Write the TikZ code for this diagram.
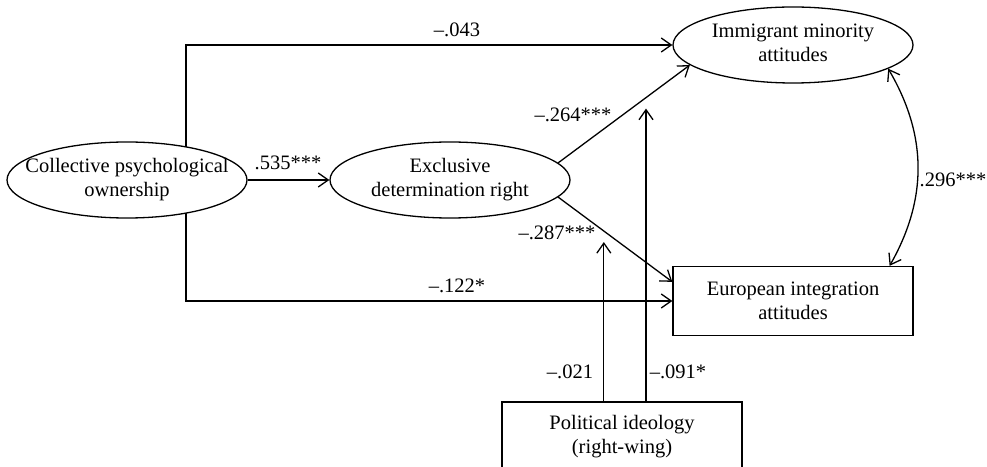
\documentclass[tikz,border=0pt]{standalone}
\usepackage{fontspec}
\setmainfont{Liberation Serif}
\usetikzlibrary{shapes.geometric,arrows.meta,calc,backgrounds}
\newcommand\ovtext[1]{\makebox[0pt]{\begin{tabular}{@{}c@{}}#1\end{tabular}}}
\begin{document}
\begin{tikzpicture}[x=1pt,y=1pt,
  font=\fontsize{20.5}{23.5}\selectfont,
  every node/.style={inner sep=0pt},
  oval/.style={ellipse,draw,line width=1.3pt,fill=white,minimum width=240pt,minimum height=76pt,inner sep=0pt},
  rbox/.style={rectangle,draw,line width=1.3pt,fill=white,minimum width=240pt,minimum height=69pt,align=center},
  arr/.style={line width=1.3pt,-{Straight Barb[length=10pt,width=14pt,line width=1.3pt]}},
  darr/.style={line width=1.3pt,{Straight Barb[length=10pt,width=14pt,line width=1.3pt]}-{Straight Barb[length=10pt,width=14pt,line width=1.3pt]}},
  lbl/.style={inner sep=0pt}]
\useasboundingbox (0,0) rectangle (987,466);
\clip (0,0) rectangle (987,466);
\node[oval] (cpo) at (127,286) {\ovtext{Collective psychological\\ownership}};
\node[oval] (edr) at (450,286) {\ovtext{Exclusive\\determination right}};
\node[oval] (ima) at (793,421) {\ovtext{Immigrant minority\\attitudes}};
\node[rbox] (eia) at (793,165) {European integration\\attitudes};
\node[rbox] (pi) at (622,29.5) {Political ideology\\(right-wing)};
\coordinate (split) at (186,286);
\begin{scope}[on background layer]
\draw[arr] (split) |- (ima.west);
\draw[arr] (split) |- (eia.west);
\draw[arr] (cpo.east) -- (edr.west);
\draw[arr] (edr.9) -- coordinate[pos=0.667] (m2) (ima.191);
\draw[arr] (edr.-9) -- coordinate[pos=0.4] (m1) (eia.171);
\draw[arr] (pi.north -| m1) -- ($(m1)+(0,-11)$);
\draw[arr] (pi.north -| m2) -- ($(m2)+(0,-11)$);
\draw[darr] (ima.-14) to[bend left=30] (eia.20);
\end{scope}
\node[lbl] (l1) at (457,436) {\textendash.043};
\node[lbl] (l2) at (288,303) {.535***};
\node[lbl] (l3) at (457,180) {\textendash.122*};
\node[lbl] (l4) at (573,351) {\textendash.264***};
\node[lbl] (l5) at (557,233) {\textendash.287***};
\node[lbl] (l6) at (570,94) {\textendash.021};
\node[lbl] (l7) at (678,94) {\textendash.091*};
\node[lbl,anchor=west] (l8) at (919.5,286) {.296***};
\end{tikzpicture}
\end{document}
